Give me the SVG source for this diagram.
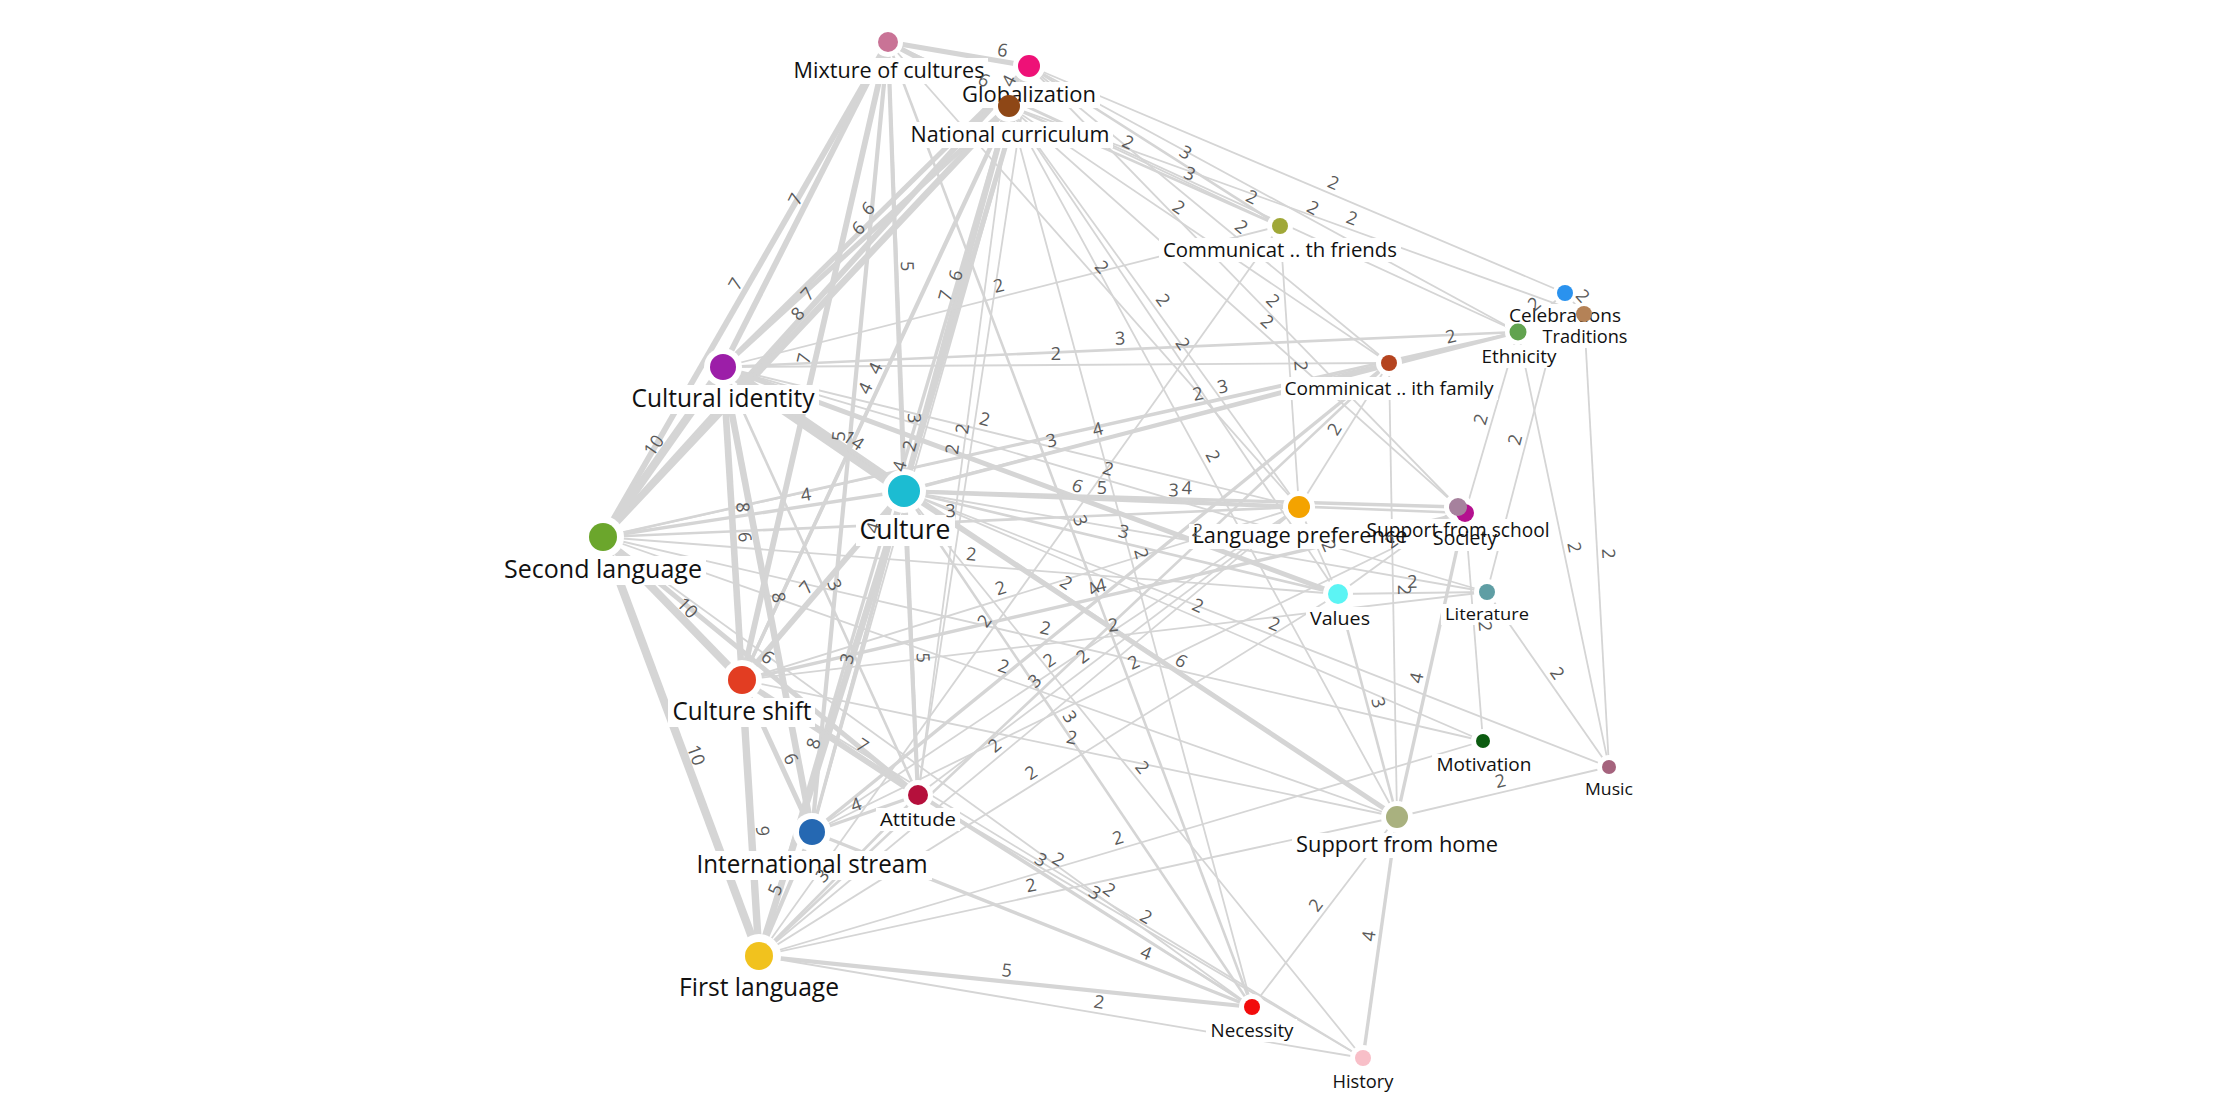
<svg xmlns="http://www.w3.org/2000/svg" width="2215" height="1104" viewBox="0 0 2215 1104">
<style>
.e{fill:none;stroke:#d5d5d5;stroke-linecap:butt}
.w2{stroke-width:1.8}.w3{stroke-width:2.6}.w4{stroke-width:3.4}.w5{stroke-width:4.2}.w6{stroke-width:5}.w7{stroke-width:5.8}.w8{stroke-width:6.6}.w9{stroke-width:7.4}.w10{stroke-width:8.2}.w14{stroke-width:11.4}
.lbl{font-family:"Segoe UI","Open Sans",sans-serif;font-size:18px;fill:#5a5a5a;text-anchor:middle}
.nl{font-family:"Segoe UI","Open Sans",sans-serif;fill:#111;text-anchor:middle}
.halo{fill:#fff}
</style>
<rect width="2215" height="1104" fill="#fff"/>
<g id="connectors">
<path id="e1" class="e w6" d="M888 42L1029 66"/>
<path id="e2" class="e w6" d="M888 42L1009 106"/>
<path id="e3" class="e w4" d="M1009 106L1029 66"/>
<path id="e4" class="e w7" d="M723 367L888 42"/>
<path id="e5" class="e w7" d="M603 537L888 42"/>
<path id="e6" class="e w6" d="M723 367L1029 66"/>
<path id="e7" class="e w6" d="M723 367L1009 106"/>
<path id="e8" class="e w7" d="M603 537L1029 66"/>
<path id="e9" class="e w8" d="M603 537L1009 106"/>
<path id="e10" class="e w5" d="M888 42L904 491"/>
<path id="e11" class="e w6" d="M904 491L1029 66"/>
<path id="e12" class="e w7" d="M904 491L1009 106"/>
<path id="e13" class="e w7" d="M742 680L888 42"/>
<path id="e14" class="e w5" d="M812 832L888 42"/>
<path id="e15" class="e w4" d="M742 680L1029 66"/>
<path id="e16" class="e w4" d="M742 680L1009 106"/>
<path id="e17" class="e w2" d="M812 832L1029 66"/>
<path id="e18" class="e w4" d="M812 832L1009 106"/>
<path id="e19" class="e w4" d="M759 956L1009 106"/>
<path id="e20" class="e w3" d="M888 42L918 795"/>
<path id="e21" class="e w2" d="M918 795L1029 66"/>
<path id="e22" class="e w2" d="M918 795L1009 106"/>
<path id="e23" class="e w3" d="M888 42L1252 1007"/>
<path id="e24" class="e w2" d="M1009 106L1252 1007"/>
<path id="e25" class="e w2" d="M1009 106L1397 817"/>
<path id="e26" class="e w2" d="M888 42L1299 507"/>
<path id="e27" class="e w2" d="M1009 106L1299 507"/>
<path id="e28" class="e w2" d="M1009 106L1465 513"/>
<path id="e29" class="e w2" d="M1029 66L1458 507"/>
<path id="e30" class="e w2" d="M1009 106L1338 594"/>
<path id="e31" class="e w2" d="M888 42L1280 226"/>
<path id="e32" class="e w3" d="M1029 66L1280 226"/>
<path id="e33" class="e w3" d="M1009 106L1280 226"/>
<path id="e34" class="e w2" d="M1029 66L1565 293"/>
<path id="e35" class="e w2" d="M1029 66L1518 332"/>
<path id="e36" class="e w2" d="M1009 106L1584 314"/>
<path id="e37" class="e w2" d="M888 42L1518 332"/>
<path id="e38" class="e w2" d="M1029 66L1389 363"/>
<path id="e39" class="e w2" d="M1009 106L1389 363"/>
<path id="e40" class="e w10" d="M603 537L723 367"/>
<path id="e41" class="e w14" d="M723 367L904 491"/>
<path id="e42" class="e w8" d="M723 367L742 680"/>
<path id="e43" class="e w8" d="M723 367L812 832"/>
<path id="e44" class="e w6" d="M723 367L759 956"/>
<path id="e45" class="e w3" d="M723 367L918 795"/>
<path id="e46" class="e w10" d="M603 537L742 680"/>
<path id="e47" class="e w10" d="M603 537L759 956"/>
<path id="e48" class="e w4" d="M603 537L904 491"/>
<path id="e49" class="e w6" d="M603 537L918 795"/>
<path id="e50" class="e w7" d="M742 680L904 491"/>
<path id="e51" class="e w3" d="M812 832L904 491"/>
<path id="e52" class="e w8" d="M759 956L904 491"/>
<path id="e53" class="e w5" d="M904 491L918 795"/>
<path id="e54" class="e w6" d="M742 680L812 832"/>
<path id="e55" class="e w9" d="M742 680L759 956"/>
<path id="e56" class="e w7" d="M742 680L918 795"/>
<path id="e57" class="e w4" d="M812 832L918 795"/>
<path id="e58" class="e w5" d="M759 956L812 832"/>
<path id="e59" class="e w3" d="M759 956L918 795"/>
<path id="e60" class="e w5" d="M759 956L1252 1007"/>
<path id="e61" class="e w2" d="M759 956L1363 1058"/>
<path id="e62" class="e w4" d="M812 832L1252 1007"/>
<path id="e63" class="e w3" d="M918 795L1252 1007"/>
<path id="e64" class="e w3" d="M742 680L1252 1007"/>
<path id="e65" class="e w2" d="M603 537L1252 1007"/>
<path id="e66" class="e w3" d="M904 491L1252 1007"/>
<path id="e67" class="e w2" d="M904 491L1363 1058"/>
<path id="e68" class="e w2" d="M918 795L1363 1058"/>
<path id="e69" class="e w2" d="M742 680L1363 1058"/>
<path id="e70" class="e w2" d="M1252 1007L1397 817"/>
<path id="e71" class="e w4" d="M1363 1058L1397 817"/>
<path id="e72" class="e w2" d="M759 956L1397 817"/>
<path id="e73" class="e w6" d="M904 491L1397 817"/>
<path id="e74" class="e w3" d="M1338 594L1397 817"/>
<path id="e75" class="e w4" d="M1397 817L1465 513"/>
<path id="e76" class="e w2" d="M1389 363L1397 817"/>
<path id="e77" class="e w2" d="M1397 817L1609 767"/>
<path id="e78" class="e w2" d="M603 537L1397 817"/>
<path id="e79" class="e w2" d="M723 367L1397 817"/>
<path id="e80" class="e w5" d="M904 491L1299 507"/>
<path id="e81" class="e w3" d="M603 537L1299 507"/>
<path id="e82" class="e w2" d="M723 367L1299 507"/>
<path id="e83" class="e w6" d="M723 367L1338 594"/>
<path id="e84" class="e w2" d="M723 367L1487 592"/>
<path id="e85" class="e w2" d="M723 367L1389 363"/>
<path id="e86" class="e w3" d="M723 367L1518 332"/>
<path id="e87" class="e w2" d="M723 367L1280 226"/>
<path id="e88" class="e w2" d="M603 537L1389 363"/>
<path id="e89" class="e w3" d="M603 537L1518 332"/>
<path id="e90" class="e w2" d="M603 537L1338 594"/>
<path id="e91" class="e w2" d="M603 537L1483 741"/>
<path id="e92" class="e w3" d="M904 491L1389 363"/>
<path id="e93" class="e w4" d="M904 491L1518 332"/>
<path id="e94" class="e w4" d="M904 491L1458 507"/>
<path id="e95" class="e w3" d="M904 491L1465 513"/>
<path id="e96" class="e w3" d="M904 491L1338 594"/>
<path id="e97" class="e w2" d="M904 491L1487 592"/>
<path id="e98" class="e w2" d="M904 491L1483 741"/>
<path id="e99" class="e w2" d="M904 491L1609 767"/>
<path id="e100" class="e w2" d="M742 680L1299 507"/>
<path id="e101" class="e w4" d="M742 680L1465 513"/>
<path id="e102" class="e w2" d="M742 680L1487 592"/>
<path id="e103" class="e w2" d="M742 680L1397 817"/>
<path id="e104" class="e w4" d="M812 832L1389 363"/>
<path id="e105" class="e w2" d="M812 832L1299 507"/>
<path id="e106" class="e w2" d="M812 832L1465 513"/>
<path id="e107" class="e w2" d="M918 795L1299 507"/>
<path id="e108" class="e w3" d="M759 956L1389 363"/>
<path id="e109" class="e w2" d="M759 956L1299 507"/>
<path id="e110" class="e w2" d="M759 956L1338 594"/>
<path id="e111" class="e w2" d="M759 956L1280 226"/>
<path id="e112" class="e w2" d="M759 956L1483 741"/>
<path id="e113" class="e w2" d="M1299 507L1389 363"/>
<path id="e114" class="e w2" d="M1299 507L1338 594"/>
<path id="e115" class="e w2" d="M1280 226L1299 507"/>
<path id="e116" class="e w2" d="M1465 513L1518 332"/>
<path id="e117" class="e w2" d="M1487 592L1565 293"/>
<path id="e118" class="e w2" d="M1338 594L1458 507"/>
<path id="e119" class="e w2" d="M1338 594L1487 592"/>
<path id="e120" class="e w2" d="M1518 332L1609 767"/>
<path id="e121" class="e w2" d="M1584 314L1609 767"/>
<path id="e122" class="e w2" d="M1465 513L1483 741"/>
<path id="e123" class="e w2" d="M1487 592L1609 767"/>
<path id="e124" class="e w2" d="M1565 293L1584 314"/>
<path id="e125" class="e w2" d="M1518 332L1565 293"/>
<path id="e126" class="e w2" d="M1389 363L1518 332"/>
</g>
<g id="halos" class="halo">
<circle cx="888" cy="42" r="15"/><circle cx="1029" cy="66" r="16"/><circle cx="1009" cy="106" r="16"/><circle cx="1280" cy="226" r="13"/>
<circle cx="1565" cy="293" r="12"/><circle cx="1584" cy="314" r="12"/><circle cx="1518" cy="332" r="13"/><circle cx="1389" cy="363" r="13"/>
<circle cx="723" cy="367" r="19"/><circle cx="603" cy="537" r="21"/><circle cx="904" cy="491" r="22"/><circle cx="1299" cy="507" r="16"/>
<circle cx="1458" cy="507" r="14"/><circle cx="1465" cy="513" r="14"/><circle cx="1338" cy="594" r="15"/><circle cx="1487" cy="592" r="13"/>
<circle cx="742" cy="680" r="20"/><circle cx="918" cy="795" r="15"/><circle cx="812" cy="832" r="19"/><circle cx="759" cy="956" r="22"/>
<circle cx="1483" cy="741" r="12"/><circle cx="1609" cy="767" r="12"/><circle cx="1397" cy="817" r="16"/><circle cx="1252" cy="1007" r="13"/><circle cx="1363" cy="1058" r="13"/>
<rect x="789" y="58" width="199" height="26"/>
<rect x="958" y="82" width="142" height="26"/>
<rect x="906" y="122" width="207" height="26"/>
<rect x="1159" y="238" width="242" height="24"/>
<rect x="1505" y="304" width="120" height="23"/>
<rect x="1538" y="325" width="93" height="23"/>
<rect x="1478" y="345" width="83" height="23"/>
<rect x="1281" y="377" width="217" height="23"/>
<rect x="628" y="385" width="191" height="29"/>
<rect x="500" y="556" width="206" height="29"/>
<rect x="856" y="515" width="99" height="31"/>
<rect x="1189" y="524" width="223" height="25"/>
<rect x="1363" y="519" width="191" height="24"/>
<rect x="1429" y="527" width="72" height="24"/>
<rect x="1306" y="607" width="68" height="23"/>
<rect x="1441" y="604" width="92" height="21"/>
<rect x="668" y="698" width="147" height="29"/>
<rect x="876" y="808" width="84" height="23"/>
<rect x="693" y="851" width="239" height="29"/>
<rect x="675" y="974" width="168" height="29"/>
<rect x="1432" y="754" width="103" height="22"/>
<rect x="1581" y="779" width="56" height="21"/>
<rect x="1292" y="833" width="210" height="25"/>
<rect x="1206" y="1019" width="91" height="23"/>
<rect x="1328" y="1071" width="70" height="22"/>
</g>
<g id="nodes">
<g id="n-mixture"><circle cx="888" cy="42" r="10" fill="#c97396"/><text class="nl" x="889" y="78" font-size="22" textLength="191" lengthAdjust="spacingAndGlyphs">Mixture of cultures</text></g>
<g id="n-globalization"><circle cx="1029" cy="66" r="11" fill="#ee1177"/><text class="nl" x="1029" y="102" font-size="22" textLength="134" lengthAdjust="spacingAndGlyphs">Globalization</text></g>
<g id="n-national"><circle cx="1009" cy="106" r="11" fill="#8e4716"/><text class="nl" x="1010" y="142" font-size="22" textLength="199" lengthAdjust="spacingAndGlyphs">National curriculum</text></g>
<g id="n-comm-friends"><circle cx="1280" cy="226" r="8" fill="#a0a838"/><text class="nl" x="1280" y="257" font-size="20" textLength="234" lengthAdjust="spacingAndGlyphs">Communicat .. th friends</text></g>
<g id="n-celebrations"><circle cx="1565" cy="293" r="8" fill="#2a92ee"/><text class="nl" x="1565" y="322" font-size="19" textLength="112" lengthAdjust="spacingAndGlyphs">Celebrations</text></g>
<g id="n-traditions"><circle cx="1584" cy="314" r="8" fill="#b48257"/><text class="nl" x="1585" y="343" font-size="19" textLength="85" lengthAdjust="spacingAndGlyphs">Traditions</text></g>
<g id="n-ethnicity"><circle cx="1518" cy="332" r="8.5" fill="#62a34f"/><text class="nl" x="1519" y="363" font-size="19" textLength="75" lengthAdjust="spacingAndGlyphs">Ethnicity</text></g>
<g id="n-comm-family"><circle cx="1389" cy="363" r="8" fill="#b5441f"/><text class="nl" x="1389" y="395" font-size="19" textLength="209" lengthAdjust="spacingAndGlyphs">Comminicat .. ith family</text></g>
<g id="n-cultural-identity"><circle cx="723" cy="367" r="13" fill="#9c1ea8"/><text class="nl" x="723" y="407" font-size="25" textLength="183" lengthAdjust="spacingAndGlyphs">Cultural identity</text></g>
<g id="n-second-language"><circle cx="603" cy="537" r="14" fill="#6ba62c"/><text class="nl" x="603" y="578" font-size="25" textLength="198" lengthAdjust="spacingAndGlyphs">Second language</text></g>
<g id="n-culture"><circle cx="904" cy="491" r="16" fill="#1cbcd2"/><text class="nl" x="905" y="539" font-size="27" textLength="91" lengthAdjust="spacingAndGlyphs">Culture</text></g>
<g id="n-language-pref"><circle cx="1299" cy="507" r="11" fill="#f4a300"/><text class="nl" x="1300" y="543" font-size="21" textLength="215" lengthAdjust="spacingAndGlyphs">Language preference</text></g>
<g id="n-society"><circle cx="1465" cy="513" r="9" fill="#b4118f"/><text class="nl" x="1465" y="545" font-size="20" textLength="64" lengthAdjust="spacingAndGlyphs">Society</text></g>
<g id="n-support-school"><circle cx="1458" cy="507" r="9" fill="#a6819d"/><text class="nl" x="1458" y="537" font-size="20" textLength="183" lengthAdjust="spacingAndGlyphs">Support from school</text></g>
<g id="n-values"><circle cx="1338" cy="594" r="10" fill="#5cf4f4"/><text class="nl" x="1340" y="625" font-size="19" textLength="60" lengthAdjust="spacingAndGlyphs">Values</text></g>
<g id="n-literature"><circle cx="1487" cy="592" r="8" fill="#5f9ea4"/><text class="nl" x="1487" y="620" font-size="17" textLength="84" lengthAdjust="spacingAndGlyphs">Literature</text></g>
<g id="n-culture-shift"><circle cx="742" cy="680" r="14" fill="#e23d22"/><text class="nl" x="742" y="720" font-size="25" textLength="139" lengthAdjust="spacingAndGlyphs">Culture shift</text></g>
<g id="n-attitude"><circle cx="918" cy="795" r="10" fill="#b5103c"/><text class="nl" x="918" y="826" font-size="19" textLength="76" lengthAdjust="spacingAndGlyphs">Attitude</text></g>
<g id="n-international"><circle cx="812" cy="832" r="13" fill="#2568b2"/><text class="nl" x="812" y="873" font-size="25" textLength="231" lengthAdjust="spacingAndGlyphs">International stream</text></g>
<g id="n-first-language"><circle cx="759" cy="956" r="14" fill="#f1c21e"/><text class="nl" x="759" y="996" font-size="25" textLength="160" lengthAdjust="spacingAndGlyphs">First language</text></g>
<g id="n-motivation"><circle cx="1483" cy="741" r="7" fill="#0b5b10"/><text class="nl" x="1484" y="771" font-size="18" textLength="95" lengthAdjust="spacingAndGlyphs">Motivation</text></g>
<g id="n-music"><circle cx="1609" cy="767" r="7" fill="#a5637d"/><text class="nl" x="1609" y="795" font-size="17" textLength="48" lengthAdjust="spacingAndGlyphs">Music</text></g>
<g id="n-support-home"><circle cx="1397" cy="817" r="11" fill="#a9b17f"/><text class="nl" x="1397" y="852" font-size="21" textLength="202" lengthAdjust="spacingAndGlyphs">Support from home</text></g>
<g id="n-necessity"><circle cx="1252" cy="1007" r="8" fill="#f20c0c"/><text class="nl" x="1252" y="1037" font-size="19" textLength="83" lengthAdjust="spacingAndGlyphs">Necessity</text></g>
<g id="n-history"><circle cx="1363" cy="1058" r="8" fill="#f8bfc8"/><text class="nl" x="1363" y="1088" font-size="18" textLength="61" lengthAdjust="spacingAndGlyphs">History</text></g>
</g>
<g id="connector-labels" class="lbl">
<text dy="-5"><textPath href="#e1" startOffset="80%">6</textPath></text>
<text dy="-5"><textPath href="#e2" startOffset="75%">6</textPath></text>
<text dy="-5"><textPath href="#e3" startOffset="50%">4</textPath></text>
<text dy="-5"><textPath href="#e4" startOffset="50%">7</textPath></text>
<text dy="-5"><textPath href="#e5" startOffset="50%">7</textPath></text>
<text dy="-5"><textPath href="#e6" startOffset="50%">6</textPath></text>
<text dy="-5"><textPath href="#e7" startOffset="50%">6</textPath></text>
<text dy="-5"><textPath href="#e8" startOffset="50%">7</textPath></text>
<text dy="-5"><textPath href="#e9" startOffset="50%">8</textPath></text>
<text dy="-5"><textPath href="#e10" startOffset="50%">5</textPath></text>
<text dy="-5"><textPath href="#e11" startOffset="50%">6</textPath></text>
<text dy="-5"><textPath href="#e12" startOffset="50%">7</textPath></text>
<text dy="-5"><textPath href="#e13" startOffset="50%">7</textPath></text>
<text dy="-5"><textPath href="#e14" startOffset="50%">5</textPath></text>
<text dy="-5"><textPath href="#e15" startOffset="50%">4</textPath></text>
<text dy="-5"><textPath href="#e16" startOffset="50%">4</textPath></text>
<text dy="-5"><textPath href="#e17" startOffset="50%">2</textPath></text>
<text dy="-5"><textPath href="#e18" startOffset="50%">4</textPath></text>
<text dy="-5"><textPath href="#e19" startOffset="50%">4</textPath></text>
<text dy="-5"><textPath href="#e20" startOffset="50%">3</textPath></text>
<text dy="-5"><textPath href="#e21" startOffset="50%">2</textPath></text>
<text dy="-5"><textPath href="#e22" startOffset="50%">2</textPath></text>
<text dy="-5"><textPath href="#e23" startOffset="50%">3</textPath></text>
<text dy="-5"><textPath href="#e24" startOffset="50%">2</textPath></text>
<text dy="-5"><textPath href="#e25" startOffset="50%">2</textPath></text>
<text dy="-5"><textPath href="#e26" startOffset="50%">2</textPath></text>
<text dy="-5"><textPath href="#e27" startOffset="50%">2</textPath></text>
<text dy="-5"><textPath href="#e28" startOffset="55%">2</textPath></text>
<text dy="-5"><textPath href="#e29" startOffset="55%">2</textPath></text>
<text dy="-5"><textPath href="#e30" startOffset="50%">2</textPath></text>
<text dy="-5"><textPath href="#e31" startOffset="60%">2</textPath></text>
<text dy="-5"><textPath href="#e32" startOffset="60%">3</textPath></text>
<text dy="-5"><textPath href="#e33" startOffset="65%">3</textPath></text>
<text dy="-5"><textPath href="#e34" startOffset="56%">2</textPath></text>
<text dy="-5"><textPath href="#e35" startOffset="57%">2</textPath></text>
<text dy="-5"><textPath href="#e36" startOffset="59%">2</textPath></text>
<text dy="-5"><textPath href="#e37" startOffset="57%">2</textPath></text>
<text dy="-5"><textPath href="#e38" startOffset="57%">2</textPath></text>
<text dy="-5"><textPath href="#e39" startOffset="43%">2</textPath></text>
<text dy="-5"><textPath href="#e40" startOffset="50%">10</textPath></text>
<text dy="-7"><textPath href="#e41" startOffset="68%">14</textPath></text>
<text dy="-5"><textPath href="#e42" startOffset="45%">8</textPath></text>
<text dy="-5"><textPath href="#e43" startOffset="50%">8</textPath></text>
<text dy="-5"><textPath href="#e44" startOffset="29%">6</textPath></text>
<text dy="-5"><textPath href="#e45" startOffset="52%">3</textPath></text>
<text dy="-5"><textPath href="#e46" startOffset="55%">10</textPath></text>
<text dy="-5"><textPath href="#e47" startOffset="53%">10</textPath></text>
<text dy="-5"><textPath href="#e48" startOffset="68%">4</textPath></text>
<text dy="-5"><textPath href="#e49" startOffset="50%">6</textPath></text>
<text dy="-5"><textPath href="#e50" startOffset="45%">7</textPath></text>
<text dy="-5"><textPath href="#e51" startOffset="50%">3</textPath></text>
<text dy="-5"><textPath href="#e52" startOffset="45%">8</textPath></text>
<text dy="-5"><textPath href="#e53" startOffset="55%">5</textPath></text>
<text dy="-5"><textPath href="#e54" startOffset="55%">6</textPath></text>
<text dy="-5"><textPath href="#e55" startOffset="55%">9</textPath></text>
<text dy="-5"><textPath href="#e56" startOffset="65%">7</textPath></text>
<text dy="-5"><textPath href="#e57" startOffset="45%">4</textPath></text>
<text dy="-5"><textPath href="#e58" startOffset="50%">5</textPath></text>
<text dy="-5"><textPath href="#e59" startOffset="45%">3</textPath></text>
<text dy="-5"><textPath href="#e60" startOffset="50%">5</textPath></text>
<text dy="-5"><textPath href="#e61" startOffset="56%">2</textPath></text>
<text dy="-5"><textPath href="#e62" startOffset="75%">4</textPath></text>
<text dy="-5"><textPath href="#e63" startOffset="35%">3</textPath></text>
<text dy="-5"><textPath href="#e64" startOffset="68%">3</textPath></text>
<text dy="-5"><textPath href="#e65" startOffset="77%">2</textPath></text>
<text dy="-5"><textPath href="#e66" startOffset="45%">3</textPath></text>
<text dy="-5"><textPath href="#e67" startOffset="50%">2</textPath></text>
<text dy="-5"><textPath href="#e68" startOffset="50%">2</textPath></text>
<text dy="-5"><textPath href="#e69" startOffset="50%">2</textPath></text>
<text dy="-5"><textPath href="#e70" startOffset="50%">2</textPath></text>
<text dy="-5"><textPath href="#e71" startOffset="50%">4</textPath></text>
<text dy="-5"><textPath href="#e72" startOffset="43%">2</textPath></text>
<text dy="-5"><textPath href="#e73" startOffset="55%">6</textPath></text>
<text dy="-5"><textPath href="#e74" startOffset="50%">3</textPath></text>
<text dy="-5"><textPath href="#e75" startOffset="45%">4</textPath></text>
<text dy="-5"><textPath href="#e76" startOffset="50%">2</textPath></text>
<text dy="-5"><textPath href="#e77" startOffset="50%">2</textPath></text>
<text dy="-5"><textPath href="#e78" startOffset="50%">2</textPath></text>
<text dy="-5"><textPath href="#e79" startOffset="50%">2</textPath></text>
<text dy="-5"><textPath href="#e80" startOffset="50%">5</textPath></text>
<text dy="-5"><textPath href="#e81" startOffset="50%">3</textPath></text>
<text dy="-5"><textPath href="#e82" startOffset="45%">2</textPath></text>
<text dy="-5"><textPath href="#e83" startOffset="57%">6</textPath></text>
<text dy="-5"><textPath href="#e84" startOffset="50%">2</textPath></text>
<text dy="-5"><textPath href="#e85" startOffset="50%">2</textPath></text>
<text dy="-5"><textPath href="#e86" startOffset="50%">3</textPath></text>
<text dy="-5"><textPath href="#e87" startOffset="50%">2</textPath></text>
<text dy="-5"><textPath href="#e88" startOffset="76%">2</textPath></text>
<text dy="-5"><textPath href="#e89" startOffset="68%">3</textPath></text>
<text dy="-5"><textPath href="#e90" startOffset="50%">2</textPath></text>
<text dy="-5"><textPath href="#e91" startOffset="50%">2</textPath></text>
<text dy="-5"><textPath href="#e92" startOffset="31%">3</textPath></text>
<text dy="-5"><textPath href="#e93" startOffset="32%">4</textPath></text>
<text dy="-5"><textPath href="#e94" startOffset="51%">4</textPath></text>
<text dy="-5"><textPath href="#e95" startOffset="48%">3</textPath></text>
<text dy="-5"><textPath href="#e96" startOffset="50%">3</textPath></text>
<text dy="-5"><textPath href="#e97" startOffset="50%">2</textPath></text>
<text dy="-5"><textPath href="#e98" startOffset="50%">2</textPath></text>
<text dy="-5"><textPath href="#e99" startOffset="52%">2</textPath></text>
<text dy="-5"><textPath href="#e100" startOffset="47%">2</textPath></text>
<text dy="-5"><textPath href="#e101" startOffset="50%">4</textPath></text>
<text dy="-5"><textPath href="#e102" startOffset="50%">2</textPath></text>
<text dy="-5"><textPath href="#e103" startOffset="50%">2</textPath></text>
<text dy="-5"><textPath href="#e104" startOffset="50%">4</textPath></text>
<text dy="-5"><textPath href="#e105" startOffset="50%">2</textPath></text>
<text dy="-5"><textPath href="#e106" startOffset="50%">2</textPath></text>
<text dy="-5"><textPath href="#e107" startOffset="45%">2</textPath></text>
<text dy="-5"><textPath href="#e108" startOffset="45%">3</textPath></text>
<text dy="-5"><textPath href="#e109" startOffset="45%">2</textPath></text>
<text dy="-5"><textPath href="#e110" startOffset="48%">2</textPath></text>
<text dy="-5"><textPath href="#e111" startOffset="45%">2</textPath></text>
<text dy="-5"><textPath href="#e112" startOffset="50%">2</textPath></text>
<text dy="-5"><textPath href="#e113" startOffset="50%">2</textPath></text>
<text dy="-5"><textPath href="#e114" startOffset="50%">2</textPath></text>
<text dy="-5"><textPath href="#e115" startOffset="50%">2</textPath></text>
<text dy="-5"><textPath href="#e116" startOffset="50%">2</textPath></text>
<text dy="-5"><textPath href="#e117" startOffset="50%">2</textPath></text>
<text dy="-5"><textPath href="#e118" startOffset="50%">2</textPath></text>
<text dy="-5"><textPath href="#e119" startOffset="50%">2</textPath></text>
<text dy="-5"><textPath href="#e120" startOffset="50%">2</textPath></text>
<text dy="-5"><textPath href="#e121" startOffset="53%">2</textPath></text>
<text dy="-5"><textPath href="#e122" startOffset="50%">2</textPath></text>
<text dy="-5"><textPath href="#e123" startOffset="50%">2</textPath></text>
<text dy="-5"><textPath href="#e124" startOffset="50%">2</textPath></text>
<text dy="-5"><textPath href="#e125" startOffset="50%">2</textPath></text>
<text dy="-5"><textPath href="#e126" startOffset="50%">2</textPath></text>
</g>
</svg>
